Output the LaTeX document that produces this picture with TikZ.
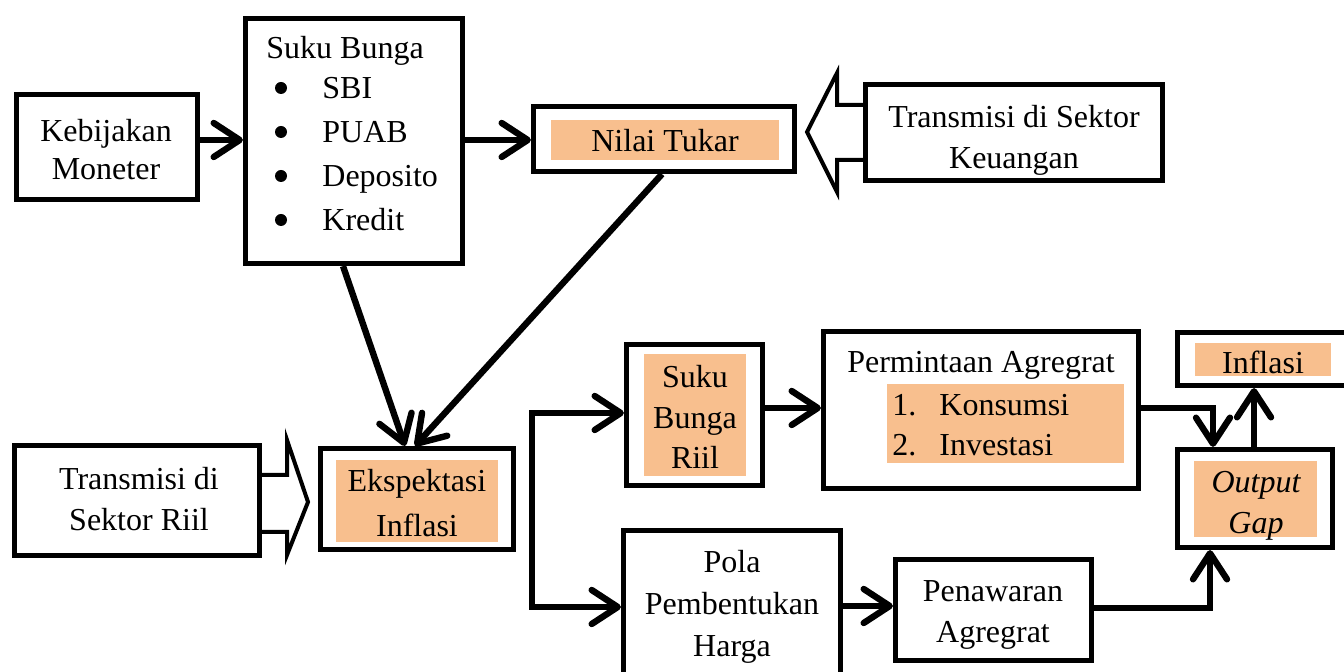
\documentclass[tikz,border=0pt]{standalone}
\usepackage{fontspec}
\setmainfont{Liberation Serif}
\usetikzlibrary{arrows.meta}
\definecolor{peach}{HTML}{F8BF8E}
\newcommand\dfont{\fontsize{16}{19}\selectfont}
\begin{document}
\begin{tikzpicture}[x=0.5pt,y=-0.5pt,
  bx/.style 2 args={draw, line width=2.6pt, inner sep=0, minimum width=#1*0.5pt, minimum height=#2*0.5pt},
  tx/.style={anchor=base, inner sep=0, font=\dfont},
  txw/.style={anchor=base west, inner sep=0, font=\dfont},
  dot/.style={circle, fill, inner sep=0, minimum size=6pt},
  arr/.style={line width=3.2pt, -{Straight Barb[length=13pt,width=17pt,round]}},
  barbs/.style={line width=3.2pt, {Straight Barb[length=13pt,width=17pt,round]}-{Straight Barb[length=13pt,width=17pt,round]}},
  hollow/.style={draw, line width=2pt, miter limit=20}]
\useasboundingbox (0,0) rectangle (1344,672);
\fill[white] (0,0) rectangle (1344,672);

% fills
\fill[peach] (551,120) rectangle (779,160);
\fill[peach] (336,460) rectangle (498,542);
\fill[peach] (644,354) rectangle (746,476);
\fill[peach] (887,384) rectangle (1124,463);
\fill[peach] (1195,343) rectangle (1331,376);
\fill[peach] (1194,461) rectangle (1317,537);

% boxes
\node[bx={181}{105}] (keb) at (107,147) {};
\node[bx={217}{245}] (suku) at (354,141) {};
\node[bx={261}{65}] (nilai) at (664,139) {};
\node[bx={297}{96}] (tks) at (1014,132.5) {};
\node[bx={245}{110}] (tsr) at (137,500.5) {};
\node[bx={193}{101}] (eks) at (417,499) {};
\node[bx={136}{141}] (sbr) at (694.5,415) {};
\node[bx={315}{157}] (perm) at (981,410) {};
\node[bx={180}{53}] (inf) at (1267.5,359) {};
\node[bx={155}{98}] (og) at (1255,498.5) {};
\node[bx={217}{167}] (pola) at (732,614) {};
\node[bx={196}{101}] (pen) at (993.5,610) {};

% texts
\node[tx] (t1a) at (106,142) {Kebijakan};
\node[tx] (t1b) at (106,180) {Moneter};
\node[txw] (t2) at (266,59) {Suku Bunga};
\foreach \yy/\ww [count=\i] in {99/SBI,143/PUAB,187/Deposito,231/Kredit}{
  \node[dot] (bul\i) at (281,\yy-11) {};
  \node[txw] (itm\i) at (322,\yy) {\ww};
}
\node[tx] (t3) at (665,152) {Nilai Tukar};
\node[tx] (t4a) at (1014,128) {Transmisi di Sektor};
\node[tx] (t4b) at (1014,169) {Keuangan};
\node[tx] (t5a) at (139,490) {Transmisi di};
\node[tx] (t5b) at (139,531) {Sektor Riil};
\node[tx] (t6a) at (417,492) {Ekspektasi};
\node[tx] (t6b) at (417,537) {Inflasi};
\node[tx] (t7a) at (695,388) {Suku};
\node[tx] (t7b) at (695,429) {Bunga};
\node[tx] (t7c) at (695,469) {Riil};
\node[tx] (t8) at (981,373) {Permintaan Agregrat};
\node[txw] (n1) at (892,416) {1.};
\node[txw] (k1) at (939,416) {Konsumsi};
\node[txw] (n2) at (892,456) {2.};
\node[txw] (k2) at (939,456) {Investasi};
\node[tx] (t9) at (1263,374) {Inflasi};
\node[tx,font=\dfont\itshape] (t10a) at (1256,493) {Output};
\node[tx,font=\dfont\itshape] (t10b) at (1256,534) {Gap};
\node[tx] (t11a) at (732,573) {Pola};
\node[tx] (t11b) at (732,615) {Pembentukan};
\node[tx] (t11c) at (732,657) {Harga};
\node[tx] (t12a) at (993,602) {Penawaran};
\node[tx] (t12b) at (993,643) {Agregrat};

% hollow arrows
\draw[hollow] (tks.west |- 0,105) -- (837,105) -- (837,73) -- (807,132) -- (837,192) -- (837,160) -- (tks.west |- 0,160);
\draw[hollow] (tsr.east |- 0,475) -- (287,475) -- (287,440) -- (308,502) -- (287,555) -- (287,532) -- (tsr.east |- 0,532);

% connectors
\draw[arr] (keb.east |- 0,140) -- (suku.west |- 0,140);
\draw[arr] (suku.east |- 0,140) -- (nilai.west |- 0,140);
\draw[arr] (suku.south -| 343,0) -- (eks.north -| 405,0);
\draw[arr] (nilai.south -| 662,0) -- (eks.north -| 415,0);
\draw[barbs] (sbr.west |- 0,413) -- (532,413) -- (532,607) -- (pola.west |- 0,607);
\draw[arr] (sbr.east |- 0,408) -- (perm.west |- 0,408);
\draw[arr] (pola.east |- 0,606) -- (pen.west |- 0,606);
\draw[arr] (perm.east |- 0,408) -| (og.north -| 1213,0);
\draw[arr] (og.north -| 1254,0) -- (inf.south -| 1254,0);
\draw[arr] (pen.east |- 0,608) -| (og.south -| 1210,0);
\end{tikzpicture}
\end{document}
